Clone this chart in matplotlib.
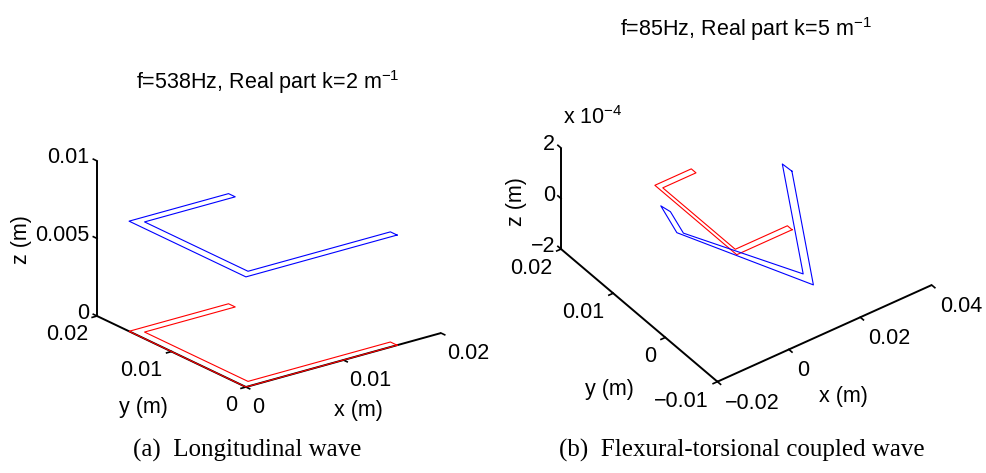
import numpy as np
import matplotlib
matplotlib.use("Agg")
import matplotlib.pyplot as plt

W, H, DPI = 987, 473, 100

# ---------------- data (metres) ----------------
# undeformed frame outline (red) - same structure in both panels
frame_x = [0.0155, 0.0, 0.0, 0.0102, 0.0102, 0.0009, 0.0009, 0.0155, 0.0155]
frame_y = [0.0, 0.0, 0.0157, 0.0157, 0.0148, 0.0148, 0.0009, 0.0009, 0.0]
red_a_z = [0.0, 0.0, 0.0, 0.0, 0.0, 0.0, 0.0, 0.0, 0.0]
# (a) longitudinal wave: deformed shape (blue)
blue_a_x = [0.0155, 0.0, 0.0, 0.0102, 0.0102, 0.0009, 0.0009, 0.0155, 0.0155]
blue_a_y = [0.0, 0.0, 0.0157, 0.0157, 0.0148, 0.0148, 0.0009, 0.0009, 0.0]
blue_a_z = [0.0071, 0.0071, 0.0071, 0.0071, 0.0071, 0.0071, 0.0071, 0.0071, 0.0071]
# (b) flexural-torsional coupled wave
red_b_z = [0.0, 0.0, 0.0, 0.0, 0.0, 0.0, 0.0, 0.0, 0.0]
blue_b_x = [0.0172, 0.0184, 0.0047, 0.0021, 0.0026, 0.0058, 0.0189, 0.0170, 0.0172]
blue_b_y = [0.0012, -0.0021, 0.0147, 0.0160, 0.0145, 0.0142, 0.0002, 0.0029, 0.0012]
blue_b_z = [2.0e-4, -2.0e-4, -2.0e-4, -1.0e-4, -1.0e-4, -2.0e-4, -2.0e-4, 2.0e-4, 2.0e-4]

# axes limits / ticks
a_lims = [(0.0, 0.02), (0.0, 0.02), (0.0, 0.01)]
a_xticks = [0.0, 0.01, 0.02]
a_xticklabels = ["0", "0.01", "0.02"]
a_yticks = [0.0, 0.01, 0.02]
a_yticklabels = ["0", "0.01", "0.02"]
a_zticks = [0.0, 0.005, 0.01]
a_zticklabels = ["0", "0.005", "0.01"]

b_lims = [(-0.02, 0.04), (-0.01, 0.02), (-2e-4, 2e-4)]
b_xticks = [-0.02, 0.0, 0.02, 0.04]
b_xticklabels = ["\u22120.02", "0", "0.02", "0.04"]
b_yticks = [-0.01, 0.0, 0.01, 0.02]
b_yticklabels = ["\u22120.01", "0", "0.01", "0.02"]
b_zticks = [-2e-4, 0.0, 2e-4]
b_zticklabels = ["\u22122", "0", "2"]

title_a = r"f=538Hz, Real part k=2 m$^{-1}$"
title_b = r"f=85Hz, Real part k=5 m$^{-1}$"
caption_a = "(a)  Longitudinal wave"
caption_b = "(b)  Flexural-torsional coupled wave"

plt.rcParams["font.family"] = ["Liberation Sans", "DejaVu Sans"]
plt.rcParams["mathtext.fontset"] = "custom"
plt.rcParams["mathtext.rm"] = "Liberation Sans"
plt.rcParams["mathtext.it"] = "Liberation Sans:italic"
plt.rcParams["mathtext.bf"] = "Liberation Sans:bold"
FS = 15.5

fig = plt.figure(figsize=(W / DPI, H / DPI), dpi=DPI)


def make_panel(rect, lims, elev, azim, aspect):
    ax = fig.add_axes(rect, projection="3d", proj_type="ortho")
    ax.set_xlim(*lims[0])
    ax.set_ylim(*lims[1])
    ax.set_zlim(*lims[2])
    ax.view_init(elev=elev, azim=azim)
    ax.set_box_aspect(aspect)
    ax.set_axis_off()
    return ax


def draw_axes(ax, lims, xt, yt, zt, tick_frac):
    (x0, x1), (y0, y1), (z0, z1) = lims
    kw = dict(color="black", lw=1.4, clip_on=False, zorder=2, solid_capstyle="butt")
    ax.plot([x0, x1], [y0, y0], [z0, z0], **kw)
    ax.plot([x0, x0], [y0, y1], [z0, z0], **kw)
    ax.plot([x0, x0], [y1, y1], [z0, z1], **kw)
    tx = (x1 - x0) * tick_frac
    ty = (y1 - y0) * tick_frac
    tkw = dict(color="black", lw=1.2, clip_on=False, zorder=2)
    for t in xt:
        ax.plot([t, t], [y0, y0 - ty], [z0, z0], **tkw)
    for t in yt:
        ax.plot([x0, x0 - tx], [t, t], [z0, z0], **tkw)
    for t in zt:
        ax.plot([x0, x0], [y1, y1 + ty], [t, t], **tkw)


axA = make_panel([0.0, 0.1, 0.5, 0.8], a_lims, 21.3, -127.3, (1.0, 1.002, 0.679))
axB = make_panel([0.5, 0.1, 0.5, 0.8], b_lims, 38.2, -126.1, (1.0, 1.001, 0.485))

draw_axes(axA, a_lims, a_xticks, a_yticks, a_zticks, 0.025)
draw_axes(axB, b_lims, b_xticks, b_yticks, b_zticks, 0.02)

lkw = dict(lw=0.8, clip_on=False, zorder=3)
axA.plot(frame_x, frame_y, red_a_z, color="red", **lkw)
axA.plot(blue_a_x, blue_a_y, blue_a_z, color="blue", **lkw)
axB.plot(frame_x, frame_y, red_b_z, color="red", **lkw)
axB.plot(blue_b_x, blue_b_y, blue_b_z, color="blue", **lkw)


def project(ax, pts):
    """Pixel positions (origin bottom-left) of 3D points, via the axes' own projection."""
    ln, = ax.plot(*zip(*pts), alpha=0.0, clip_on=False)
    fig.canvas.draw()
    p = ln.get_transform().transform(np.asarray(ln.get_xydata()))
    ln.remove()
    return p


def calibrate(ax, pts, tgt):
    p = project(ax, pts)
    T = np.array([(tx, H - ty) for tx, ty in tgt], dtype=float)
    pm, Tm = p.mean(0), T.mean(0)
    k = np.sum((p - pm) * (T - Tm)) / np.sum((p - pm) ** 2)
    t = Tm - k * pm
    pos = ax.get_position()
    x0, y0 = pos.x0 * W, pos.y0 * H
    w, h = pos.width * W, pos.height * H
    ax.set_position([(k * x0 + t[0]) / W, (k * y0 + t[1]) / H, k * w / W, k * h / H])


# place each 3D box so its corners land where the reference puts them
calA_pts = [(0.0, 0.0, 0.0), (0.02, 0.0, 0.0), (0.0, 0.02, 0.0), (0.0, 0.02, 0.01)]
calA_tgt = [(246, 387), (441, 333), (97, 316), (97, 161)]
calB_pts = [(-0.02, -0.01, -2e-4), (0.04, -0.01, -2e-4), (-0.02, 0.02, -2e-4), (-0.02, 0.02, 2e-4)]
calB_tgt = [(717.5, 381.7), (931.7, 285.0), (561, 249), (561, 148)]
for _ in range(3):
    calibrate(axA, calA_pts, calA_tgt)
    calibrate(axB, calB_pts, calB_tgt)


def put(px, py, s, dx, dy, **kw):
    fig.text((px + dx) / W, (py + dy) / H, s, fontsize=kw.pop("fontsize", FS), **kw)


def label_axes(ax, lims, xt, xtl, yt, ytl, zt, ztl, tl_off, xlab, ylab, zlab):
    (x0, x1), (y0, y1), (z0, z1) = lims
    xm, ym, zm = 0.5 * (x0 + x1), 0.5 * (y0 + y1), 0.5 * (z0 + z1)
    pts = ([(t, y0, z0) for t in xt] + [(x0, t, z0) for t in yt] +
           [(x0, y1, t) for t in zt] + [(xm, y0, z0), (x0, ym, z0), (x0, y1, zm)])
    p = project(ax, pts)
    nx, ny, nz = len(xt), len(yt), len(zt)
    (xdx, xdy), (ydx, ydy), (zdx, zdy) = tl_off
    for i, s in enumerate(xtl):
        put(*p[i], s, xdx, xdy, ha="left", va="top")
    for i, s in enumerate(ytl):
        put(*p[nx + i], s, ydx, ydy, ha="right", va="top")
    for i, s in enumerate(ztl):
        put(*p[nx + ny + i], s, zdx, zdy, ha="right", va="center")
    k = nx + ny + nz
    put(*p[k], "x (m)", *xlab, ha="center", va="center")
    put(*p[k + 1], "y (m)", *ylab, ha="center", va="center")
    put(*p[k + 2], "z (m)", *zlab, ha="center", va="center", rotation=90)


label_axes(axA, a_lims, a_xticks, a_xticklabels, a_yticks, a_yticklabels,
           a_zticks, a_zticklabels, [(6, -10), (-9, -8), (-8, 3)],
           (14.5, -50), (-28.5, -55.5), (-76, -1.5))
label_axes(axB, b_lims, b_xticks, b_xticklabels, b_yticks, b_yticklabels,
           b_zticks, b_zticklabels, [(8, -11), (-9, -9), (-6, 3)],
           (18.4, -63.6), (-30.2, -74.6), (-45, -3))

ptop = project(axB, [(b_lims[0][0], b_lims[1][1], b_lims[2][1])])[0]
put(*ptop, r"x 10$^{-4}$", 2, 30, ha="left", va="center")

fig.text(267.5 / W, 1 - 89.3 / H, title_a, fontsize=FS, ha="center", va="baseline")
fig.text(746 / W, 1 - 36 / H, title_b, fontsize=FS, ha="center", va="baseline")
fig.text(247 / W, 1 - 450 / H, caption_a, fontsize=18, ha="center", va="center",
         family=["Liberation Serif", "DejaVu Serif"])
fig.text(742 / W, 1 - 450 / H, caption_b, fontsize=18, ha="center", va="center",
         family=["Liberation Serif", "DejaVu Serif"])

fig.savefig("out.png", dpi=DPI)
